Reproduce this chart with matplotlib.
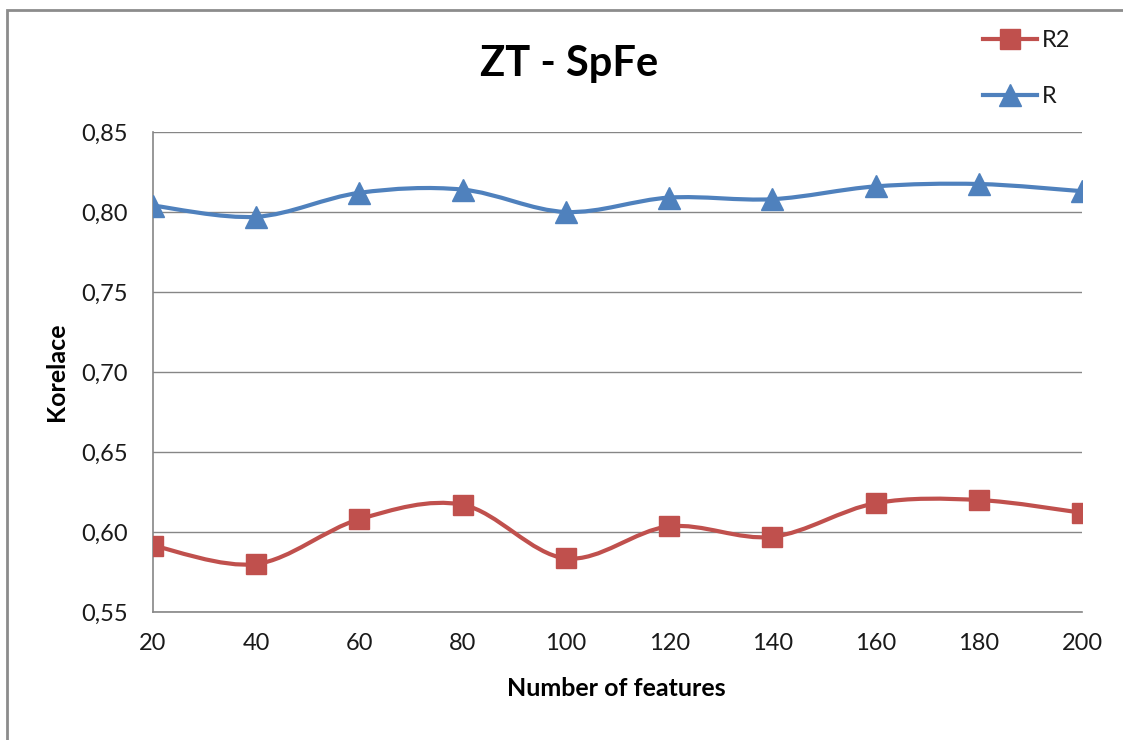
import matplotlib.pyplot as plt
from matplotlib.path import Path
from matplotlib.patches import PathPatch, Rectangle
from matplotlib.lines import Line2D

# data
features = [20, 40, 60, 80, 100, 120, 140, 160, 180, 200]
r2_values = [0.5915, 0.580, 0.608, 0.617, 0.5835, 0.6035, 0.597, 0.618, 0.620, 0.612]
r_values = [0.804, 0.797, 0.812, 0.814, 0.800, 0.809, 0.808, 0.816, 0.8175, 0.813]
y_ticks = [0.55, 0.60, 0.65, 0.70, 0.75, 0.80, 0.85]

RED = '#C0504D'
BLUE = '#4F81BD'
GRID = '#868686'

plt.rcParams['font.family'] = ['Lato', 'DejaVu Sans']
plt.rcParams['text.color'] = '#1a1a1a'


def smooth_path(xs, ys):
    # excel style smoothed line: cubic bezier segments through every point
    pts = list(zip(xs, ys))
    verts = [pts[0]]
    codes = [Path.MOVETO]
    for i in range(len(pts) - 1):
        p0 = pts[i - 1] if i > 0 else pts[i]
        p1 = pts[i]
        p2 = pts[i + 1]
        p3 = pts[i + 2] if i + 2 < len(pts) else pts[i + 1]
        c1 = (p1[0] + (p2[0] - p0[0]) / 6, p1[1] + (p2[1] - p0[1]) / 6)
        c2 = (p2[0] - (p3[0] - p1[0]) / 6, p2[1] - (p3[1] - p1[1]) / 6)
        verts += [c1, c2, p2]
        codes += [Path.CURVE4] * 3
    return Path(verts, codes)


fig = plt.figure(figsize=(11.23, 7.40), dpi=100)
ax = fig.add_axes([153 / 1123, 1 - 612 / 740, (1082 - 153) / 1123, (612 - 132) / 740])

for vals, col, mk, ms in [(r2_values, RED, 's', 14), (r_values, BLUE, '^', 16)]:
    ax.add_patch(PathPatch(smooth_path(features, vals), fill=False, edgecolor=col,
                           lw=3, capstyle='round', zorder=3))
    ax.plot(features, vals, linestyle='none', marker=mk, ms=ms, color=col, zorder=4)

ax.set_xlim(20, 200)
ax.set_ylim(0.55, 0.85)
ax.set_xticks(features)
ax.set_xticklabels([str(v) for v in features])
ax.set_yticks(y_ticks)
ax.set_yticklabels([f'{v:.2f}'.replace('.', ',') for v in y_ticks])
ax.tick_params(axis='both', length=0, labelsize=17, colors='#1a1a1a')
ax.tick_params(axis='x', pad=15)
ax.tick_params(axis='y', pad=18)

ax.grid(axis='y', color=GRID, lw=1.0)
ax.set_axisbelow(True)
for s in ['top', 'right']:
    ax.spines[s].set_visible(False)
for s in ['left', 'bottom']:
    ax.spines[s].set_color(GRID)
    ax.spines[s].set_linewidth(1.2)

fig.text(569 / 1123, 1 - 76 / 740, 'ZT - SpFe', ha='center', va='baseline',
         fontsize=30, fontweight='bold', color='black')
fig.text(616 / 1123, 1 - 689 / 740, 'Number of features', ha='center', va='center',
         fontsize=18, fontweight='bold', color='black')
fig.text(57 / 1123, 1 - 372 / 740, 'Korelace', ha='center', va='center', rotation=90,
         fontsize=18, fontweight='bold', color='black')

handles = [Line2D([], [], color=RED, lw=3, marker='s', ms=14),
           Line2D([], [], color=BLUE, lw=3, marker='^', ms=16)]
fig.legend(handles, ['R2', 'R'], loc='upper left', bbox_to_anchor=(983 / 1123, 1 - 30 / 740),
           frameon=False, fontsize=17, handlelength=2.3, handletextpad=0.2,
           labelspacing=1.5, borderpad=0, borderaxespad=0)

# chart area border
fig.patches.append(Rectangle((7 / 1123, -0.05), 1.2, 1.05 - 10 / 740, transform=fig.transFigure,
                             fill=False, edgecolor='#8c8c8c', lw=2, clip_on=False))

fig.savefig('out.png', dpi=100)
